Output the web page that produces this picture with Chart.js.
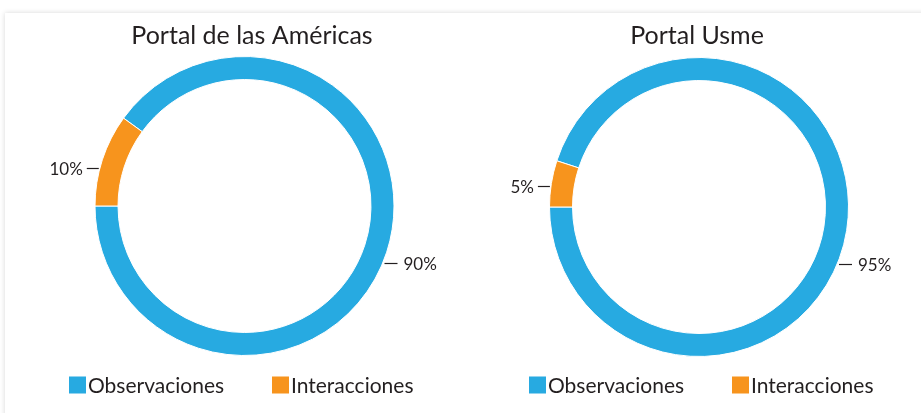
<!DOCTYPE html>
<html><head><meta charset="utf-8">
<script src="https://cdn.jsdelivr.net/npm/chart.js@4.4.0/dist/chart.umd.min.js"></script>
<style>
html,body{margin:0;padding:0;background:#fff;width:921px;height:413px;overflow:hidden;}
#card{position:absolute;left:5px;top:13px;width:940px;height:430px;background:#fff;box-shadow:0 0 5px rgba(0,0,0,0.16);}
.c{position:absolute;top:0;height:413px;}
</style></head><body>
<div id="card"></div>
<div class="c" style="left:0;width:460px"><canvas id="c1" width="460" height="413"></canvas></div>
<div class="c" style="left:460px;width:461px"><canvas id="c2" width="461" height="413"></canvas></div>
<script>
const categories = ['Observaciones', 'Interacciones'];
const portalAmericas = [90, 10];
const portalUsme = [95, 5];
const chartTitles = ['Portal de las Américas', 'Portal Usme'];
const colors = ['#27AAE1', '#F7941D'];

const FONT = 'Lato, "Open Sans", sans-serif';
const TEXT = '#231F20';

const decor = {
  id: 'decor',
  afterDraw(chart, args, opts) {
    const ctx = chart.ctx;
    const meta = chart.getDatasetMeta(0);
    const data = chart.data.datasets[0].data;
    const total = data.reduce((a, b) => a + b, 0);
    ctx.save();
    // title
    ctx.fillStyle = TEXT;
    ctx.font = opts.titleSize + 'px ' + FONT;
    ctx.textAlign = 'center';
    ctx.textBaseline = 'alphabetic';
    ctx.fillText(opts.title, opts.titleX, opts.titleY);
    // leader labels
    ctx.font = opts.labelSize + 'px ' + FONT;
    ctx.textBaseline = 'middle';
    meta.data.forEach((arc, i) => {
      const ang = (opts.angles[i] - 90) * Math.PI / 180;
      const r = arc.outerRadius, cx = arc.x, cy = arc.y;
      const y = Math.round(cy + r * Math.sin(ang)) + 0.5;
      const dx = Math.sqrt(Math.max(0, r * r - (y - cy) * (y - cy)));
      const right = Math.cos(ang) > 0;
      const x0 = right ? cx + dx + 2 : cx - dx - 1;
      const x1 = right ? x0 + 13 : x0 - 12;
      ctx.strokeStyle = '#231F20';
      ctx.lineWidth = 1.2;
      ctx.beginPath(); ctx.moveTo(x0, y); ctx.lineTo(x1, y); ctx.stroke();
      ctx.fillStyle = TEXT;
      ctx.textAlign = right ? 'left' : 'right';
      const txt = Math.round(data[i] / total * 100) + '%';
      ctx.fillText(txt, right ? x1 + 6 : x1 - 4, y + 1);
    });
    // legend
    ctx.font = opts.legendSize + 'px ' + FONT;
    ctx.textAlign = 'left';
    const box = 17, gap = 2, between = 48;
    const widths = chart.data.labels.map(l => box + gap + ctx.measureText(l).width);
    const totalW = widths.reduce((a, b) => a + b, 0) + between * (widths.length - 1);
    let x = opts.legendCenter - totalW / 2;
    chart.data.labels.forEach((l, i) => {
      ctx.fillStyle = chart.data.datasets[0].backgroundColor[i];
      ctx.fillRect(Math.round(x), opts.legendY - box / 2, box, box);
      ctx.fillStyle = TEXT;
      ctx.fillText(l, Math.round(x) + box + gap, opts.legendY + 1);
      x += widths[i] + between;
    });
    ctx.restore();
  }
};

function makeChart(id, values, title, pad, extra) {
  const total = values.reduce((a, b) => a + b, 0);
  return new Chart(document.getElementById(id), {
    type: 'doughnut',
    data: {
      labels: categories,
      datasets: [{
        data: values,
        backgroundColor: colors,
        borderColor: '#ffffff',
        borderWidth: 1,
        hoverOffset: 0
      }]
    },
    options: {
      responsive: false,
      animation: false,
      cutout: '84.6%',
      rotation: -90 + 360 * values[1] / total,
      layout: { padding: pad },
      plugins: {
        legend: { display: false },
        tooltip: { enabled: false },
        title: { display: false },
        decor: Object.assign({ title: title, titleY: 44, titleSize: 25, labelSize: 17, legendSize: 21, legendY: 385 }, extra)
      }
    },
    plugins: [decor]
  });
}

makeChart('c1', portalAmericas, chartTitles[0], { left: 80, right: 51, top: 56, bottom: 57 },
  { titleX: 252, angles: [112.3, 284.7], legendCenter: 241.5 });
makeChart('c2', portalUsme, chartTitles[1], { left: 70, right: 53, top: 57, bottom: 56 },
  { titleX: 237, angles: [112.3, 278.2], legendCenter: 241.5 });
</script>
</body></html>
